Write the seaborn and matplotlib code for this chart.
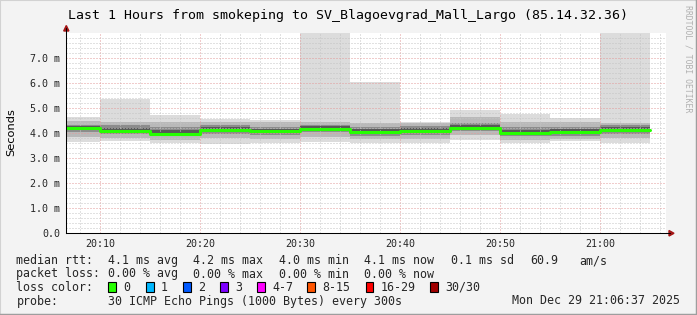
import numpy as np
import pandas as pd
import matplotlib
matplotlib.use("Agg")
import matplotlib.pyplot as plt
import seaborn as sns
from matplotlib.patches import Rectangle, Polygon
from matplotlib.lines import Line2D

# ---------------- data (milliseconds) ----------------
bin_starts = ["20:05", "20:10", "20:15", "20:20", "20:25", "20:30",
              "20:35", "20:40", "20:45", "20:50", "20:55", "21:00"]
median_ms = [4.18, 4.09, 3.98, 4.12, 4.06, 4.17, 4.02, 4.07, 4.21, 4.00, 4.02, 4.13]
min_ms    = [3.65, 3.69, 3.59, 3.56, 3.59, 3.65, 3.59, 3.59, 3.72, 3.61, 3.68, 3.59]
p10_ms    = [3.85, 3.82, 3.74, 3.80, 3.78, 3.84, 3.76, 3.78, 3.92, 3.74, 3.78, 3.80]
p25_ms    = [4.02, 3.97, 3.88, 3.97, 3.93, 4.02, 3.90, 3.94, 4.08, 3.88, 3.90, 3.98]
p40_ms    = [4.10, 4.02, 3.93, 4.05, 3.99, 4.10, 3.96, 4.00, 4.15, 3.94, 3.96, 4.06]
p60_ms    = [4.26, 4.20, 4.12, 4.22, 4.16, 4.26, 4.14, 4.18, 4.32, 4.12, 4.14, 4.22]
p75_ms    = [4.33, 4.30, 4.22, 4.30, 4.25, 4.33, 4.22, 4.27, 4.40, 4.22, 4.22, 4.30]
p90_ms    = [4.47, 4.45, 4.42, 4.45, 4.42, 4.45, 4.40, 4.40, 4.62, 4.45, 4.42, 4.40]
max_ms    = [4.62, 5.35, 4.70, 4.55, 4.51, 12.0, 6.02, 4.45, 4.91, 4.75, 4.61, 12.0]

view_start = "20:06:37"
view_end = "21:06:37"
x_tick_labels = ["20:10", "20:20", "20:30", "20:40", "20:50", "21:00"]
y_tick_values = [0, 1, 2, 3, 4, 5, 6, 7]
y_tick_labels = ["0.0", "1.0 m", "2.0 m", "3.0 m", "4.0 m", "5.0 m", "6.0 m", "7.0 m"]

title = "Last 1 Hours from smokeping to SV_Blagoevgrad_Mall_Largo (85.14.32.36)"
rtt_label = "median rtt:"
rtt_stats = ["4.1 ms avg", "4.2 ms max", "4.0 ms min", "4.1 ms now", "0.1 ms sd", "60.9", "am/s"]
loss_label = "packet loss:"
loss_stats = ["0.00 % avg", "0.00 % max", "0.00 % min", "0.00 % now"]
color_label = "loss color:"
loss_names = ["0", "1", "2", "3", "4-7", "8-15", "16-29", "30/30"]
loss_colors = ["#26ff00", "#00b8ff", "#0059ff", "#7e00ff", "#ff00ff", "#ff5500", "#ff0000", "#a10000"]
probe_label = "probe:"
probe_text = "30 ICMP Echo Pings (1000 Bytes) every 300s"
stamp = "Mon Dec 29 21:06:37 2025"
watermark = "RRDTOOL / TOBI OETIKER"


def to_min(s):
    parts = [int(p) for p in s.split(":")]
    while len(parts) < 3:
        parts.append(0)
    return (parts[0] - 20) * 60 + parts[1] + parts[2] / 60.0


W, H = 697, 315
sns.set_style("white")
plt.rcParams["font.family"] = ["DejaVu Sans Mono", "DejaVu Sans"]

fig = plt.figure(figsize=(W / 100, H / 100), dpi=100, facecolor="#f3f3f3")


def fx(x):
    return x / W


def fy(y):
    return 1 - y / H


left, right, top, bottom = 66.2, 666.2, 32.7, 233.3
ax = fig.add_axes([fx(left), fy(bottom), fx(right) - fx(left), fy(top) - fy(bottom)])
ax.set_facecolor("white")

edges = [to_min(s) for s in bin_starts]
edges.append(edges[-1] + 5)


def ext(a):
    return list(a) + [a[-1]]


bands = [(min_ms, max_ms, "#dcdcdc"),
         (p10_ms, p90_ms, "#b9b9b9"),
         (p25_ms, p75_ms, "#8c8c8c"),
         (p40_ms, p60_ms, "#585858")]
for lo, hi, c in bands:
    ax.fill_between(edges, ext(lo), ext(hi), step="post", color=c, lw=0, zorder=1)

df = pd.DataFrame({"t": edges, "ms": ext(median_ms)})
sns.lineplot(data=df, x="t", y="ms", ax=ax, color="#26ff00", lw=2.2,
             drawstyle="steps-post", zorder=4, legend=False)

ax.set_xlim(to_min(view_start), to_min(view_end))
ax.set_ylim(0, 8)
ax.set_xlabel("")
ax.set_ylabel("")

ax.set_xticks([to_min(s) for s in x_tick_labels])
ax.set_xticklabels(x_tick_labels)
ax.set_xticks(np.arange(8, 67, 2), minor=True)
ax.set_yticks(y_tick_values)
ax.set_yticklabels(y_tick_labels)
ax.set_yticks(np.arange(0.2, 8.0, 0.2), minor=True)

ax.set_axisbelow(False)
ax.grid(which="minor", color="#c4c4c4", lw=0.72, linestyle=(0, (1, 2)), zorder=2)
ax.grid(which="major", color="#e39a9a", lw=0.72, linestyle=(0, (1, 2)), zorder=2.5)

ax.tick_params(axis="both", which="major", labelsize=7.2, length=2.5, width=0.72,
               direction="inout", color="black", pad=3)
ax.tick_params(axis="both", which="minor", length=0)
for lab in ax.get_xticklabels() + ax.get_yticklabels():
    lab.set_family("DejaVu Sans Mono")

for s in ["top", "right"]:
    ax.spines[s].set_visible(False)
for s in ["left", "bottom"]:
    ax.spines[s].set_color("black")
    ax.spines[s].set_linewidth(0.75)
    ax.spines[s].set_zorder(5)

# axis extensions + arrows
fig.add_artist(Line2D([fx(left), fx(left)], [fy(top), fy(28)], color="black", lw=0.75))
fig.add_artist(Line2D([fx(right), fx(670)], [fy(bottom), fy(bottom)], color="black", lw=0.75))
arrow_c = "#a31515"
fig.add_artist(Polygon([(fx(63.7), fy(31)), (fx(68.9), fy(31)), (fx(66.3), fy(25.5))],
                       closed=True, color=arrow_c, transform=fig.transFigure))
fig.add_artist(Polygon([(fx(669), fy(230.5)), (fx(669), fy(236)), (fx(674), fy(233.3))],
                       closed=True, color=arrow_c, transform=fig.transFigure))

# texts
fig.text(fx(347.5), fy(18.5), title, ha="center", va="baseline", fontsize=9.5,
         family="DejaVu Sans Mono", color="black")
fig.text(fx(10.8), fy(132.5), "Seconds", rotation=90, ha="center", va="center",
         fontsize=8.2, family="DejaVu Sans", color="black")
fig.text(fx(688.3), fy(5), watermark, rotation=270, ha="center", va="top",
         fontsize=5.9, family="DejaVu Sans Mono", color="#b0b0b0")

fs = 8.4
mono = "DejaVu Sans Mono"
b1, b2, b3, b4 = 264, 277.5, 291, 304.5
fig.text(fx(16.5), fy(b1), rtt_label, fontsize=fs, family=mono, va="baseline")
for x, s in zip([107.5, 193, 279, 364, 451, 530, 579], rtt_stats):
    fig.text(fx(x), fy(b1), s, fontsize=fs, family=mono, va="baseline")
fig.text(fx(16.5), fy(b2), loss_label, fontsize=fs, family=mono, va="baseline")
for x, s in zip([107.5, 193, 279, 364], loss_stats):
    fig.text(fx(x), fy(b2), s, fontsize=fs, family=mono, va="baseline")
fig.text(fx(16.5), fy(b3), color_label, fontsize=fs, family=mono, va="baseline")
box_x = [108.3, 146, 183, 220, 257.3, 307.3, 365.7, 430]
for bx, name, c in zip(box_x, loss_names, loss_colors):
    fig.add_artist(Rectangle((fx(bx), fy(292)), fx(7.7), fy(282) - fy(292), facecolor=c,
                             edgecolor="black", lw=0.8, transform=fig.transFigure))
    fig.text(fx(bx + 14.8), fy(b3), name, fontsize=fs, family=mono, va="baseline")
fig.text(fx(16.5), fy(b4), probe_label, fontsize=fs, family=mono, va="baseline")
fig.text(fx(107.5), fy(b4), probe_text, fontsize=fs, family=mono, va="baseline")
fig.text(fx(680.5), fy(b4), stamp, fontsize=fs, family=mono, va="baseline", ha="right")

# image frame
fig.add_artist(Line2D([0, 0], [0, 1], color="#d2d2d2", lw=1.5, transform=fig.transFigure))
fig.add_artist(Line2D([0, 1], [1, 1], color="#d2d2d2", lw=1.5, transform=fig.transFigure))
fig.add_artist(Line2D([1, 1], [0, 1], color="#9e9e9e", lw=2.5, transform=fig.transFigure))
fig.add_artist(Line2D([0, 1], [0, 0], color="#9e9e9e", lw=2.5, transform=fig.transFigure))

fig.savefig("out.png", dpi=100, facecolor=fig.get_facecolor())
